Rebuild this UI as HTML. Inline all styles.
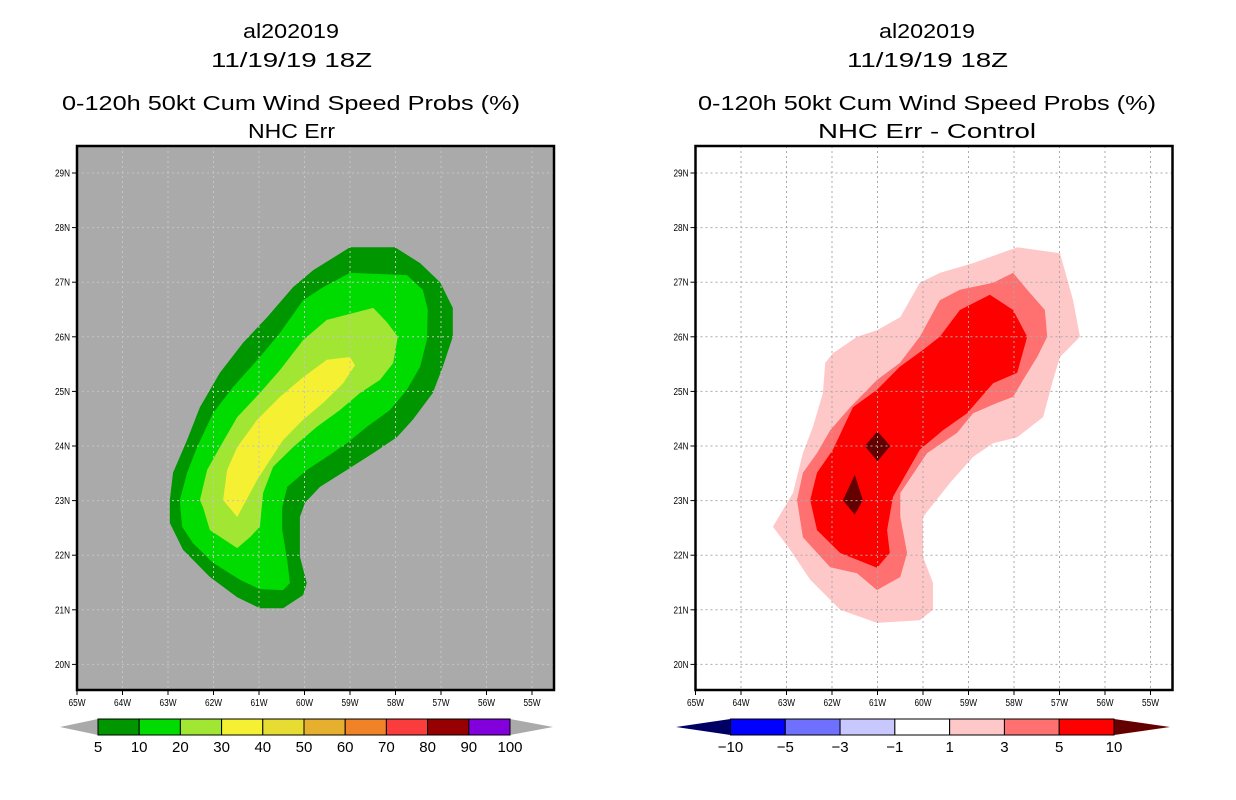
<!DOCTYPE html>
<html><head><meta charset="utf-8"><style>
body{margin:0;background:#fff;}
svg{display:block;font-family:"Liberation Sans",sans-serif;}
</style></head><body>
<svg id="chart" width="1236" height="800" viewBox="0 0 1236 800" xmlns="http://www.w3.org/2000/svg">
<g font-size="20" text-anchor="middle" fill="#000">
<text x="291" y="38" textLength="96" lengthAdjust="spacingAndGlyphs">al202019</text>
<text x="291.5" y="67" textLength="161" lengthAdjust="spacingAndGlyphs">11/19/19 18Z</text>
<text x="291" y="110" textLength="458" lengthAdjust="spacingAndGlyphs">0-120h 50kt Cum Wind Speed Probs (%)</text>
<text x="291.5" y="138" textLength="87" lengthAdjust="spacingAndGlyphs">NHC Err</text>
</g>
<g font-size="20" text-anchor="middle" fill="#000">
<text x="927" y="38" textLength="96" lengthAdjust="spacingAndGlyphs">al202019</text>
<text x="927.5" y="67" textLength="161" lengthAdjust="spacingAndGlyphs">11/19/19 18Z</text>
<text x="927" y="110" textLength="458" lengthAdjust="spacingAndGlyphs">0-120h 50kt Cum Wind Speed Probs (%)</text>
<text x="927" y="138" textLength="218" lengthAdjust="spacingAndGlyphs">NHC Err - Control</text>
</g>
<g id="left"></g>
<g id="right"></g>
</svg>
<script>
const NS="http://www.w3.org/2000/svg";
const lonTicks=[65,64,63,62,61,60,59,58,57,56,55];
const latTicks=[20,21,22,23,24,25,26,27,28,29];
// left contour polygons [lon(W), lat(N)]
const leftP5=[[59.0,27.64],[58.01,27.64],[57.46,27.35],[57.02,27.0],[56.74,26.53],[56.74,26.0],[56.96,25.45],[57.18,24.97],[57.62,24.48],[57.97,24.16],[58.49,23.87],[59.07,23.56],[59.66,23.25],[59.99,22.96],[60.1,22.7],[60.1,21.97],[59.95,21.49],[60.03,21.27],[60.47,21.03],[60.98,21.03],[61.48,21.23],[62.08,21.6],[62.67,22.1],[62.96,22.59],[62.96,23.01],[62.89,23.51],[62.58,24.11],[62.3,24.71],[61.86,25.34],[61.35,25.89],[60.82,26.36],[60.25,26.91],[59.81,27.22]];
const leftP10=[[59.0,27.17],[57.75,27.13],[57.4,26.86],[57.29,26.49],[57.31,25.94],[57.46,25.45],[57.75,25.03],[58.12,24.66],[58.63,24.35],[59.07,24.05],[59.51,23.8],[59.95,23.56],[60.38,23.25],[60.49,22.88],[60.49,22.46],[60.38,21.91],[60.32,21.49],[60.47,21.36],[60.98,21.38],[61.42,21.55],[62.01,21.86],[62.45,22.22],[62.69,22.52],[62.74,23.01],[62.58,23.51],[62.36,23.98],[62.01,24.6],[61.57,25.08],[60.98,25.63],[60.54,26.07],[60.03,26.67],[59.59,26.91]];
const leftP20=[[59.51,26.31],[58.49,26.53],[58.19,26.27],[57.95,26.0],[58.05,25.52],[58.34,25.21],[58.78,24.97],[59.22,24.66],[59.73,24.35],[60.25,23.98],[60.69,23.62],[60.91,23.14],[60.98,22.52],[61.2,22.33],[61.48,22.13],[62.08,22.46],[62.23,22.88],[62.3,23.01],[62.14,23.56],[61.86,23.98],[61.48,24.53],[60.98,24.97],[60.54,25.39],[60.03,25.94]];
const leftP30=[[59.51,25.58],[59.0,25.63],[58.89,25.48],[59.15,25.15],[59.59,24.79],[60.03,24.48],[60.47,24.11],[60.76,23.74],[61.04,23.38],[61.48,22.7],[61.79,23.01],[61.7,23.56],[61.48,23.98],[61.04,24.48],[60.54,24.9],[60.03,25.26]];
const rightP1=[[63.3,22.52],[62.86,23.14],[62.64,23.87],[62.42,24.35],[62.2,24.97],[62.15,25.52],[61.98,25.7],[61.45,26.0],[61.01,26.12],[60.5,26.36],[60.07,26.99],[59.63,27.17],[58.9,27.35],[57.93,27.64],[56.99,27.53],[56.7,26.67],[56.55,26.0],[56.99,25.63],[57.14,25.21],[57.36,24.53],[57.93,24.16],[58.46,24.05],[58.9,23.8],[59.41,23.32],[60.0,22.7],[60.0,21.97],[59.78,21.49],[59.78,21.0],[60.07,20.81],[61.01,20.76],[61.82,21.0],[62.48,21.55],[62.92,22.1]];
const rightP3=[[62.77,23.01],[62.64,23.51],[62.33,23.87],[62.04,24.29],[61.6,24.71],[61.01,25.21],[60.51,25.52],[60.07,26.0],[59.63,26.67],[59.19,26.86],[58.46,26.99],[58.02,27.17],[57.71,26.86],[57.32,26.49],[57.27,26.0],[57.49,25.63],[57.8,25.21],[58.02,24.9],[58.37,24.79],[58.9,24.6],[59.25,24.24],[59.91,23.87],[60.5,23.14],[60.5,22.7],[60.35,22.04],[60.5,21.6],[61.01,21.36],[61.45,21.67],[62.04,21.78],[62.64,22.33]];
const rightP5=[[62.48,23.01],[62.33,23.51],[61.98,23.93],[61.54,24.71],[61.01,25.03],[60.51,25.45],[60.0,25.76],[59.63,26.0],[59.19,26.49],[58.53,26.77],[58.02,26.49],[57.71,26.0],[57.93,25.34],[58.46,25.15],[59.03,24.6],[59.56,24.29],[60.07,23.93],[60.66,23.07],[60.79,22.46],[60.73,22.04],[61.01,21.77],[61.82,22.04],[62.33,22.46]];
const rightP10a=[[61.0,24.27],[60.72,24.0],[61.0,23.72],[61.28,24.0]];
const rightP10b=[[61.5,23.47],[61.32,23.01],[61.5,22.74],[61.76,23.01]];
const leftLevels=["5","10","20","30","40","50","60","70","80","90","100"];
const leftColors=["#009600","#00dc00","#a0e632","#f5f032","#e6dc32","#e6af2d","#f08228","#fa3c3c","#960000","#8200dc"];
const rightLevels=["-10","-5","-3","-1","1","3","5","10"];
const rightColors=["#0000ff","#7070ff","#c8c8ff","#ffffff","#ffc8c8","#ff7070","#ff0000"];

function el(tag,attrs,parent){const e=document.createElementNS(NS,tag);for(const k in attrs)e.setAttribute(k,attrs[k]);parent.appendChild(e);return e;}
function panel(g,x0,bg,grid,polys){
  const y0=146,w=477,h=544;
  const X=lon=>x0+(65-lon)*45.5;
  const Y=lat=>173+(29-lat)*54.6;
  const r=el('rect',{x:x0,y:y0,width:w,height:h,fill:bg},g);
  
  
  polys.forEach(([pts,col,name])=>{
    const p=el('polygon',{points:pts.map(q=>X(q[0]).toFixed(1)+','+Y(q[1]).toFixed(1)).join(' '),fill:col},g);
    
    
  });
  lonTicks.forEach(l=>{
    if(l<65){const gl=el('line',{x1:X(l),x2:X(l),y1:y0,y2:y0+h,stroke:grid,'stroke-dasharray':'2,3'},g);
    
    }
    el('line',{x1:X(l),x2:X(l),y1:y0+h,y2:y0+h+5,stroke:'#000'},g);
    const t=el('text',{x:X(l),y:y0+h+16,'font-size':10,'text-anchor':'middle',textLength:17,lengthAdjust:'spacingAndGlyphs'},g);
    t.textContent=l+'W';
    
    
  });
  latTicks.forEach(l=>{
    const gl=el('line',{x1:x0,x2:x0+w,y1:Y(l),y2:Y(l),stroke:grid,'stroke-dasharray':'2,3'},g);
    
    
    el('line',{x1:x0-5,x2:x0,y1:Y(l),y2:Y(l),stroke:'#000'},g);
    const t=el('text',{x:x0-7,y:Y(l)+3.5,'font-size':10,'text-anchor':'end',textLength:15,lengthAdjust:'spacingAndGlyphs'},g);
    t.textContent=l+'N';
    
    
  });
  const f=el('rect',{x:x0,y:y0,width:w,height:h,fill:'none',stroke:'#000','stroke-width':2.5},g);
  
  
}
function colorbar(g,x0,x1,tipL,tipR,cols,labels,lc,rc){
  const y0=719,y1=735,n=cols.length,bw=(x1-x0)/n;
  const a=el('polygon',{points:`${tipL},727 ${x0},${y0} ${x0},${y1}`,fill:lc},g);
  
  
  const b=el('polygon',{points:`${tipR},727 ${x1},${y0} ${x1},${y1}`,fill:rc},g);
  
  
  cols.forEach((c,i)=>{
    const r=el('rect',{x:x0+i*bw,y:y0,width:bw,height:y1-y0,fill:c,stroke:'#000','stroke-width':1},g);
    
    
  });
  labels.forEach((s,i)=>{
    const t=el('text',{x:x0+i*bw,y:752,'font-size':15,'text-anchor':'middle'},g);
    t.textContent=s.replace('-','\u2212');
    
    
  });
}
const L=document.getElementById('left'),R=document.getElementById('right');
panel(L,77,'#aaaaaa','#c4c4c4',[[leftP5,leftColors[0],'contour-5'],[leftP10,leftColors[1],'contour-10'],[leftP20,leftColors[2],'contour-20'],[leftP30,leftColors[3],'contour-30']]);
panel(R,695.5,'#ffffff','#aaaaaa',[[rightP1,rightColors[4],'contour-1'],[rightP3,rightColors[5],'contour-3'],[rightP5,rightColors[6],'contour-5'],[rightP10a,'#640000','contour-10-a'],[rightP10b,'#640000','contour-10-b']]);
colorbar(L,98,510,60,553,leftColors,leftLevels,'#aaaaaa','#aaaaaa');
colorbar(R,730.5,1114,676,1170,rightColors,rightLevels,'#000064','#640000');
</script>
</body></html>
